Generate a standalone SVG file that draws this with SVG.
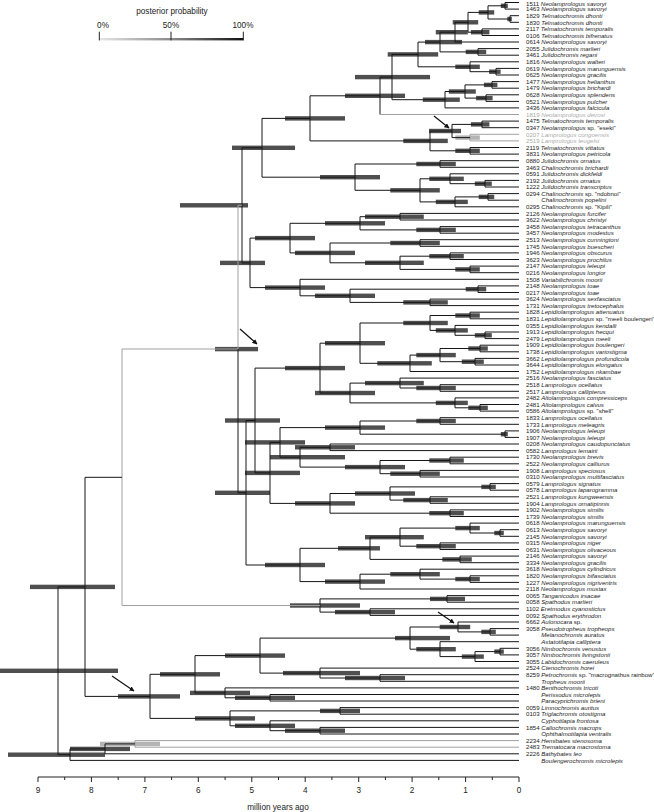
<svg xmlns="http://www.w3.org/2000/svg" width="654" height="812" viewBox="0 0 654 812">
<defs>
<style>
.t{font-family:"Liberation Sans",Arial,sans-serif;font-size:6.1px;fill:#222}
.i{font-style:italic}
.g{fill:#aaa}
.ax{font-family:"Liberation Sans",Arial,sans-serif;font-size:8.2px;fill:#222;text-anchor:middle}
.axl{stroke:#222;stroke-width:1;fill:none}
.br path{stroke:#161616;stroke-width:1;fill:none}
.br path.gy{stroke:#a0a0a0}
.bars rect{fill:#4f4f4f}
.bars rect.gy{fill:#b4b4b4}
.arr{stroke:#111;stroke-width:1.2;fill:none;marker-end:url(#ah)}
</style>
<linearGradient id="pp" x1="0" x2="1" y1="0" y2="0">
<stop offset="0" stop-color="#e6e6e6"/><stop offset="0.5" stop-color="#8a8a8a"/><stop offset="1" stop-color="#111"/>
</linearGradient>
<marker id="ah" viewBox="0 0 10 10" refX="9" refY="5" markerWidth="5" markerHeight="5" orient="auto" markerUnits="userSpaceOnUse"><path d="M0 0L10 5L0 10z" fill="#111"/></marker>
</defs>
<rect width="654" height="812" fill="#fff"/>
<g id="legend">
<text class="ax" x="172" y="13.5">posterior probability</text>
<text class="ax" x="103" y="28">0%</text>
<text class="ax" x="171" y="28">50%</text>
<text class="ax" x="243" y="28">100%</text>
<rect x="99.3" y="38" width="144" height="2.4" fill="url(#pp)"/>
<path class="axl" d="M99.3 31.7V40.4M171 31.7V40.4M243.3 31.7V40.4"/>
</g>
<g id="axis">
<path class="axl" d="M38 777H519M38 777v5M91.4 777v5M144.9 777v5M198.3 777v5M251.8 777v5M305.2 777v5M358.7 777v5M412.1 777v5M465.6 777v5M519 777v5M64.7 777v3M118.2 777v3M171.6 777v3M225.1 777v3M278.5 777v3M331.9 777v3M385.4 777v3M438.8 777v3M492.3 777v3"/>
<text class="ax" x="38" y="793">9</text><text class="ax" x="91.4" y="793">8</text><text class="ax" x="144.9" y="793">7</text><text class="ax" x="198.3" y="793">6</text><text class="ax" x="251.8" y="793">5</text><text class="ax" x="305.2" y="793">4</text><text class="ax" x="358.7" y="793">3</text><text class="ax" x="412.1" y="793">2</text><text class="ax" x="465.6" y="793">1</text><text class="ax" x="519" y="793">0</text>
<text class="ax" x="278" y="810">million years ago</text>
</g>
<g id="hpd" class="bars">
<rect x="500.8" y="3.6" width="7" height="4.4"/><rect x="507.3" y="16.8" width="4.5" height="4.4"/><rect x="478.7" y="10.2" width="15.5" height="4.4"/><rect x="470.9" y="30" width="18.5" height="4.4"/><rect x="452.7" y="20.1" width="25.5" height="4.4"/><rect x="435.8" y="30" width="32" height="4.4"/><rect x="465.7" y="49.7" width="20.5" height="4.4"/><rect x="425" y="39.9" width="37" height="4.4"/><rect x="489.1" y="69.5" width="11.5" height="4.4"/><rect x="455.3" y="64.6" width="24.5" height="4.4"/><rect x="387.7" y="52.2" width="50.5" height="4.4"/><rect x="483.9" y="82.7" width="13.5" height="4.4"/><rect x="476.1" y="95.9" width="16.5" height="4.4"/><rect x="448.8" y="89.3" width="27" height="4.4"/><rect x="422.8" y="97.5" width="37" height="4.4"/><rect x="355" y="74.9" width="75" height="4.4"/><rect x="345" y="93.6" width="60" height="4.4"/><rect x="470.9" y="122.2" width="18.5" height="4.4"/><rect class="gy" x="455.3" y="135.4" width="24.5" height="4.4"/><rect x="429" y="128.8" width="32" height="4.4"/><rect x="455.3" y="148.6" width="24.5" height="4.4"/><rect x="403.3" y="138.7" width="44.5" height="4.4"/><rect x="285" y="116.2" width="60" height="4.4"/>
<rect x="416.3" y="161.8" width="39.5" height="4.4"/><rect x="474.8" y="181.5" width="17" height="4.4"/><rect x="429.3" y="176.6" width="34.5" height="4.4"/><rect x="478.7" y="194.7" width="15.5" height="4.4"/><rect x="435.8" y="199.7" width="32" height="4.4"/><rect x="390.3" y="188.1" width="49.5" height="4.4"/><rect x="320" y="175" width="60" height="4.4"/><rect x="232" y="145.6" width="63" height="4.4"/><rect x="365" y="214.5" width="58.8" height="4.4"/><rect x="416.3" y="227.7" width="39.5" height="4.4"/><rect x="325" y="221.1" width="60" height="4.4"/><rect x="390.3" y="240.8" width="49.5" height="4.4"/><rect x="429.3" y="254" width="34.5" height="4.4"/><rect x="455.3" y="267.2" width="24.5" height="4.4"/><rect x="365" y="260.6" width="58.8" height="4.4"/><rect x="295" y="250.7" width="60" height="4.4"/><rect x="255" y="235.9" width="60" height="4.4"/><rect x="465.7" y="287" width="20.5" height="4.4"/><rect x="403.3" y="300.2" width="44.5" height="4.4"/><rect x="315" y="293.6" width="60" height="4.4"/><rect x="265" y="285.4" width="60" height="4.4"/><rect x="220" y="260.7" width="45" height="4.4"/><rect x="180" y="203.1" width="68" height="4.4"/>
<rect x="455.3" y="313.3" width="24.5" height="4.4"/><rect x="474.8" y="333.1" width="17" height="4.4"/><rect x="435.8" y="328.2" width="32" height="4.4"/><rect x="403.3" y="320.8" width="44.5" height="4.4"/><rect x="468.3" y="346.3" width="19.5" height="4.4"/><rect x="461.8" y="359.5" width="22" height="4.4"/><rect x="416.3" y="352.9" width="39.5" height="4.4"/><rect x="377.3" y="361.1" width="54.5" height="4.4"/><rect x="325" y="341" width="60" height="4.4"/><rect x="416.3" y="385.8" width="39.5" height="4.4"/><rect x="365" y="380.9" width="58.8" height="4.4"/><rect x="468.3" y="405.6" width="19.5" height="4.4"/><rect x="435.8" y="400.7" width="32" height="4.4"/><rect x="315" y="390.8" width="60" height="4.4"/><rect x="285" y="365.9" width="60" height="4.4"/><rect x="416.3" y="418.8" width="39.5" height="4.4"/><rect x="500.8" y="432" width="7" height="4.4"/><rect x="325" y="425.4" width="60" height="4.4"/><rect x="295" y="445.1" width="60" height="4.4"/><rect x="429.3" y="458.3" width="34.5" height="4.4"/><rect x="390.3" y="471.5" width="49.5" height="4.4"/><rect x="345" y="464.9" width="60" height="4.4"/><rect x="270" y="455" width="75" height="4.4"/><rect x="245" y="440.2" width="60" height="4.4"/><rect x="481.3" y="484.7" width="14.5" height="4.4"/><rect x="403.3" y="497.9" width="44.5" height="4.4"/><rect x="355" y="491.3" width="60" height="4.4"/><rect x="429.3" y="511" width="34.5" height="4.4"/><rect x="295" y="501.2" width="60" height="4.4"/><rect x="245" y="470.7" width="55" height="4.4"/>
<rect x="494.3" y="530.8" width="9.5" height="4.4"/><rect x="455.3" y="525.9" width="24.5" height="4.4"/><rect x="416.3" y="544" width="39.5" height="4.4"/><rect x="365" y="535" width="58.8" height="4.4"/><rect x="442.3" y="557.2" width="29.5" height="4.4"/><rect x="338" y="546.1" width="42" height="4.4"/><rect x="455.3" y="576.9" width="24.5" height="4.4"/><rect x="390.3" y="572" width="49.5" height="4.4"/><rect x="325" y="579.4" width="60" height="4.4"/><rect x="265" y="562.8" width="60" height="4.4"/><rect x="225" y="418.3" width="55" height="4.4"/><rect x="215" y="490.6" width="55" height="4.4"/><rect x="215" y="346.9" width="43" height="4.4"/>
<rect x="430" y="596.7" width="35" height="4.4"/><rect x="335" y="609.9" width="60" height="4.4"/><rect x="290" y="603.3" width="70" height="4.4"/>
<rect x="481.3" y="629.7" width="14.5" height="4.4"/><rect x="439.7" y="624.8" width="30.5" height="4.4"/><rect x="494.3" y="649.4" width="9.5" height="4.4"/><rect x="461.8" y="654.4" width="22" height="4.4"/><rect x="416.3" y="647" width="39.5" height="4.4"/><rect x="395" y="635.9" width="55" height="4.4"/><rect x="345" y="675.8" width="60" height="4.4"/><rect x="283" y="670.9" width="77" height="4.4"/><rect x="225" y="653.4" width="60" height="4.4"/><rect x="235" y="695.6" width="60" height="4.4"/><rect x="190" y="690.7" width="60" height="4.4"/><rect x="160" y="672.1" width="60" height="4.4"/><rect x="320" y="708.7" width="40" height="4.4"/><rect x="285" y="728.5" width="60" height="4.4"/><rect x="235" y="723.6" width="60" height="4.4"/><rect x="195" y="716.2" width="60" height="4.4"/><rect x="118" y="694.2" width="62" height="4.4"/><rect x="30" y="584.7" width="85" height="4.4"/><rect class="gy" x="100" y="741.7" width="60" height="4.4"/><rect x="70" y="746.7" width="60" height="4.4"/><rect x="8" y="752.5" width="97" height="4.4"/><rect x="0" y="668.6" width="118" height="4.4"/>
</g>
<g id="branches" class="br">
<path d="M519 2.5H505V9.1H519"/><path d="M519 15.7H510V22.3H519"/><path d="M505 5.8H488V19H510"/><path d="M519 28.9H482V35.5H519"/><path d="M488 12.4H468V32.2H482"/><path d="M468 22.3H455V42H519"/><path d="M519 48.6H478V55.2H519"/><path d="M455 32.2H440V51.9H478"/><path d="M519 68.4H496V75H519"/><path d="M519 61.8H470V71.7H496"/><path d="M440 42.1H418V66.8H470"/><path d="M519 81.6H492V88.2H519"/><path d="M519 94.8H486V101.4H519"/><path d="M492 84.9H465V98.1H486"/><path d="M465 91.5H445V107.9H519"/><path d="M418 54.4H392V99.7H445"/><path d="M392 77.1H380V114.5"/><path class="gy" d="M380 114.5H519"/><path d="M519 121.1H482V127.7H519"/><path class="gy" d="M519 134.3H470V140.9H519"/><path d="M482 124.4H452V137.6H470"/><path d="M519 147.5H470V154.1H519"/><path d="M452 131H430V150.8H470"/><path d="M380 95.8H310V140.9H430"/>
<path d="M519 160.7H440V167.3H519"/><path d="M519 180.4H485V187H519"/><path d="M519 173.8H450V183.7H485"/><path d="M519 193.6H488V200.2H519"/><path d="M488 196.9H455V206.8H519"/><path d="M450 178.8H420V201.9H455"/><path d="M440 164H355V190.3H420"/><path d="M310 118.4H262V177.2H355"/><path d="M519 213.4H400V220H519"/><path d="M519 226.6H440V233.2H519"/><path d="M400 216.7H360V229.9H440"/><path d="M519 239.7H420V246.3H519"/><path d="M519 252.9H450V259.5H519"/><path d="M519 266.1H470V272.7H519"/><path d="M450 256.2H400V269.4H470"/><path d="M420 243H330V262.8H400"/><path d="M360 223.3H290V252.9H330"/><path d="M519 285.9H478V292.5H519"/><path d="M519 299.1H430V305.6H519"/><path d="M478 289.2H350V302.4H430"/><path d="M519 279.3H300V295.8H350"/><path d="M290 238.1H250V287.6H300"/><path d="M262 147.8H242V262.9H250"/>
<path d="M519 312.2H470V318.8H519"/><path d="M519 332H485V338.6H519"/><path d="M519 325.4H455V335.3H485"/><path d="M470 315.5H430V330.4H455"/><path d="M519 345.2H480V351.8H519"/><path d="M519 358.4H475V365H519"/><path d="M480 348.5H440V361.7H475"/><path d="M440 355.1H410V371.5H519"/><path d="M430 323H360V363.3H410"/><path d="M519 384.7H440V391.3H519"/><path d="M519 378.1H400V388H440"/><path d="M519 404.5H480V411.1H519"/><path d="M519 397.9H455V407.8H480"/><path d="M400 383.1H350V402.9H455"/><path d="M360 343.2H320V393H350"/><path d="M519 417.7H440V424.3H519"/><path d="M519 430.9H505V437.4H519"/><path d="M440 421H360V434.2H505"/><path d="M519 444H330V450.6H519"/><path d="M519 457.2H450V463.8H519"/><path d="M519 470.4H420V477H519"/><path d="M450 460.5H380V473.7H420"/><path d="M330 447.3H300V467.1H380"/><path d="M360 427.6H280V457.2H300"/><path d="M519 483.6H490V490.2H519"/><path d="M519 496.8H430V503.3H519"/><path d="M490 486.9H390V500.1H430"/><path d="M519 509.9H450V516.5H519"/><path d="M390 493.5H330V513.2H450"/><path d="M280 442.4H270V503.4H330"/>
<path d="M519 529.7H500V536.3H519"/><path d="M519 523.1H470V533H500"/><path d="M519 542.9H440V549.5H519"/><path d="M470 528.1H400V546.2H440"/><path d="M519 556.1H460V562.7H519"/><path d="M400 537.2H370V559.4H460"/><path d="M519 575.8H470V582.4H519"/><path d="M519 569.2H420V579.1H470"/><path d="M420 574.2H360V589H519"/><path d="M370 548.3H300V581.6H360"/><path d="M320 368.1H255V472.9H270"/><path d="M255 420.5H246V565H300"/><path class="gy" d="M242 205.3H238V349"/><path d="M238 349V492.8H246"/>
<path d="M519 595.6H447V602.2H519"/><path d="M519 608.8H370V615.4H519"/><path d="M447 598.9H320V612.1H370"/><path class="gy" d="M238 349H122V605.5H320"/>
<path d="M519 628.6H490V635.1H519"/><path d="M519 622H458V631.9H490"/><path d="M519 648.3H500V654.9H519"/><path d="M500 651.6H475V661.5H519"/><path d="M519 641.7H440V656.6H475"/><path d="M458 627H410V649.2H440"/><path d="M519 674.7H380V681.3H519"/><path d="M519 668.1H320V678H380"/><path d="M410 638.1H260V673.1H320"/><path d="M519 694.5H270V701H519"/><path d="M519 687.9H225V697.8H270"/><path d="M260 655.6H195V692.9H225"/><path d="M519 707.6H340V714.2H519"/><path d="M519 727.4H320V734H519"/><path d="M519 720.8H270V730.7H320"/><path d="M340 710.9H230V725.8H270"/><path d="M195 674.3H150V718.4H230"/><path d="M122 477.3H85V696.4H150"/><path class="gy" d="M519 740.6H135V747.2H519"/><path d="M135 743.9H105V753.8H519"/><path d="M105 748.9H70V760.4H519"/><path d="M85 586.9H58V754.7H70"/>
</g>
<g id="arrows">
<path class="arr" d="M434 116L449 128"/>
<path class="arr" d="M240 329L257 344"/>
<path class="arr" d="M438 612L454 623"/>
<path class="arr" d="M112 676L134 691"/>
</g>
<g id="labels">
<text id="tip1" class="t" x="526" y="5.6">1511 <tspan class="i">Neolamprologus savoryi</tspan></text>
<text id="tip2" class="t" x="526" y="11.3">1463 <tspan class="i">Neolamprologus savoryi</tspan></text>
<text id="tip3" class="t" x="526" y="17.9">1829 <tspan class="i">Telmatochromis dhonti</tspan></text>
<text id="tip4" class="t" x="526" y="24.5">1830 <tspan class="i">Telmatochromis dhonti</tspan></text>
<text id="tip5" class="t" x="526" y="31.1">2117 <tspan class="i">Telmatochromis temporalis</tspan></text>
<text id="tip6" class="t" x="526" y="37.7">0106 <tspan class="i">Telmatochromis bifrenatus</tspan></text>
<text id="tip7" class="t" x="526" y="44.2">0614 <tspan class="i">Neolamprologus savoryi</tspan></text>
<text id="tip8" class="t" x="526" y="50.8">2055 <tspan class="i">Julidochromis marlieri</tspan></text>
<text id="tip9" class="t" x="526" y="57.4">3461 <tspan class="i">Julidochromis regani</tspan></text>
<text id="tip10" class="t" x="526" y="64">1816 <tspan class="i">Neolamprologus walteri</tspan></text>
<text id="tip11" class="t" x="526" y="70.6">0619 <tspan class="i">Neolamprologus marunguensis</tspan></text>
<text id="tip12" class="t" x="526" y="77.2">0625 <tspan class="i">Neolamprologus gracilis</tspan></text>
<text id="tip13" class="t" x="526" y="83.8">1477 <tspan class="i">Neolamprologus helianthus</tspan></text>
<text id="tip14" class="t" x="526" y="90.4">1479 <tspan class="i">Neolamprologus brichardi</tspan></text>
<text id="tip15" class="t" x="526" y="97">0628 <tspan class="i">Neolamprologus splendens</tspan></text>
<text id="tip16" class="t" x="526" y="103.6">0521 <tspan class="i">Neolamprologus pulcher</tspan></text>
<text id="tip17" class="t" x="526" y="110.1">3436 <tspan class="i">Neolamprologus falcicula</tspan></text>
<text id="tip18" class="t g" x="526" y="116.7">1819 <tspan class="i">Neolamprologus devosi</tspan></text>
<text id="tip19" class="t" x="526" y="123.3">1475 <tspan class="i">Telmatochromis temporalis</tspan></text>
<text id="tip20" class="t" x="526" y="129.9">0347 <tspan class="i">Neolamprologus</tspan> sp. "eseki"</text>
<text id="tip21" class="t g" x="526" y="136.5">0207 <tspan class="i">Lamprologus congoensis</tspan></text>
<text id="tip22" class="t g" x="526" y="143.1">2519 <tspan class="i">Lamprologus teugelsi</tspan></text>
<text id="tip23" class="t" x="526" y="149.7">2119 <tspan class="i">Telmatochromis vittatus</tspan></text>
<text id="tip24" class="t" x="526" y="156.3">3831 <tspan class="i">Neolamprologus petricola</tspan></text>
<text id="tip25" class="t" x="526" y="162.9">0880 <tspan class="i">Julidochromis ornatus</tspan></text>
<text id="tip26" class="t" x="526" y="169.5">3463 <tspan class="i">Chalinochromis brichardi</tspan></text>
<text id="tip27" class="t" x="526" y="176">0591 <tspan class="i">Julidochromis dickfeldi</tspan></text>
<text id="tip28" class="t" x="526" y="182.6">2192 <tspan class="i">Julidochromis ornatus</tspan></text>
<text id="tip29" class="t" x="526" y="189.2">1222 <tspan class="i">Julidochromis transcriptus</tspan></text>
<text id="tip30" class="t" x="526" y="195.8">0294 <tspan class="i">Chalinochromis</tspan> sp. "ndobnoi"</text>
<text id="tip31" class="t i" x="541.3" y="202.4">Chalinochromis popelini</text>
<text id="tip32" class="t" x="526" y="209">0295 <tspan class="i">Chalinochromis</tspan> sp. "Kipili"</text>
<text id="tip33" class="t" x="526" y="215.6">2126 <tspan class="i">Neolamprologus furcifer</tspan></text>
<text id="tip34" class="t" x="526" y="222.2">3622 <tspan class="i">Neolamprologus christyi</tspan></text>
<text id="tip35" class="t" x="526" y="228.8">3458 <tspan class="i">Neolamprologus tetracanthus</tspan></text>
<text id="tip36" class="t" x="526" y="235.4">3457 <tspan class="i">Neolamprologus modestus</tspan></text>
<text id="tip37" class="t" x="526" y="241.9">2513 <tspan class="i">Neolamprologus cunningtoni</tspan></text>
<text id="tip38" class="t" x="526" y="248.5">1745 <tspan class="i">Neolamprologus buescheri</tspan></text>
<text id="tip39" class="t" x="526" y="255.1">1946 <tspan class="i">Neolamprologus obscurus</tspan></text>
<text id="tip40" class="t" x="526" y="261.7">3623 <tspan class="i">Neolamprologus prochilus</tspan></text>
<text id="tip41" class="t" x="526" y="268.3">2147 <tspan class="i">Neolamprologus leleupi</tspan></text>
<text id="tip42" class="t" x="526" y="274.9">0216 <tspan class="i">Neolamprologus longior</tspan></text>
<text id="tip43" class="t" x="526" y="281.5">1508 <tspan class="i">Variabilichromis moorii</tspan></text>
<text id="tip44" class="t" x="526" y="288.1">2148 <tspan class="i">Neolamprologus toae</tspan></text>
<text id="tip45" class="t" x="526" y="294.7">0217 <tspan class="i">Neolamprologus toae</tspan></text>
<text id="tip46" class="t" x="526" y="301.3">3624 <tspan class="i">Neolamprologus sexfasciatus</tspan></text>
<text id="tip47" class="t" x="526" y="307.8">1731 <tspan class="i">Neolamprologus tretocephalus</tspan></text>
<text id="tip48" class="t" x="526" y="314.4">1828 <tspan class="i">Lepidiolamprologus attenuatus</tspan></text>
<text id="tip49" class="t" x="526" y="321">1831 <tspan class="i">Lepidiolamprologus</tspan> sp. "meeli boulengeri"</text>
<text id="tip50" class="t" x="526" y="327.6">0355 <tspan class="i">Lepidiolamprologus kendalli</tspan></text>
<text id="tip51" class="t" x="526" y="334.2">1913 <tspan class="i">Lepidiolamprologus hecqui</tspan></text>
<text id="tip52" class="t" x="526" y="340.8">2479 <tspan class="i">Lepidiolamprologus meeli</tspan></text>
<text id="tip53" class="t" x="526" y="347.4">1909 <tspan class="i">Lepidiolamprologus boulengeri</tspan></text>
<text id="tip54" class="t" x="526" y="354">1738 <tspan class="i">Lepidiolamprologus variostigma</tspan></text>
<text id="tip55" class="t" x="526" y="360.6">3662 <tspan class="i">Lepidiolamprologus profundicola</tspan></text>
<text id="tip56" class="t" x="526" y="367.2">3644 <tspan class="i">Lepidiolamprologus elongatus</tspan></text>
<text id="tip57" class="t" x="526" y="373.7">1752 <tspan class="i">Lepidiolamprologus nkambae</tspan></text>
<text id="tip58" class="t" x="526" y="380.3">2516 <tspan class="i">Neolamprologus fasciatus</tspan></text>
<text id="tip59" class="t" x="526" y="386.9">2518 <tspan class="i">Lamprologus ocellatus</tspan></text>
<text id="tip60" class="t" x="526" y="393.5">2517 <tspan class="i">Lamprologus callipterus</tspan></text>
<text id="tip61" class="t" x="526" y="400.1">2482 <tspan class="i">Altolamprologus compressiceps</tspan></text>
<text id="tip62" class="t" x="526" y="406.7">2481 <tspan class="i">Altolamprologus calvus</tspan></text>
<text id="tip63" class="t" x="526" y="413.3">0586 <tspan class="i">Altolamprologus</tspan> sp. "shell"</text>
<text id="tip64" class="t" x="526" y="419.9">1833 <tspan class="i">Lamprologus ocellatus</tspan></text>
<text id="tip65" class="t" x="526" y="426.5">1733 <tspan class="i">Lamprologus meleagris</tspan></text>
<text id="tip66" class="t" x="526" y="433.1">1906 <tspan class="i">Neolamprologus leleupi</tspan></text>
<text id="tip67" class="t" x="526" y="439.6">1907 <tspan class="i">Neolamprologus leleupi</tspan></text>
<text id="tip68" class="t" x="526" y="446.2">0208 <tspan class="i">Neolamprologus caudopunctatus</tspan></text>
<text id="tip69" class="t" x="526" y="452.8">0582 <tspan class="i">Lamprologus lemairii</tspan></text>
<text id="tip70" class="t" x="526" y="459.4">1730 <tspan class="i">Neolamprologus brevis</tspan></text>
<text id="tip71" class="t" x="526" y="466">2522 <tspan class="i">Neolamprologus calliurus</tspan></text>
<text id="tip72" class="t" x="526" y="472.6">1908 <tspan class="i">Lamprologus speciosus</tspan></text>
<text id="tip73" class="t" x="526" y="479.2">0310 <tspan class="i">Neolamprologus multifasciatus</tspan></text>
<text id="tip74" class="t" x="526" y="485.8">0579 <tspan class="i">Lamprologus signatus</tspan></text>
<text id="tip75" class="t" x="526" y="492.4">0578 <tspan class="i">Lamprologus laparogramma</tspan></text>
<text id="tip76" class="t" x="526" y="499">2521 <tspan class="i">Lamprologus kungweensis</tspan></text>
<text id="tip77" class="t" x="526" y="505.5">1904 <tspan class="i">Lamprologus ornatipinnis</tspan></text>
<text id="tip78" class="t" x="526" y="512.1">1902 <tspan class="i">Neolamprologus similis</tspan></text>
<text id="tip79" class="t" x="526" y="518.7">1739 <tspan class="i">Neolamprologus similis</tspan></text>
<text id="tip80" class="t" x="526" y="525.3">0618 <tspan class="i">Neolamprologus marunguensis</tspan></text>
<text id="tip81" class="t" x="526" y="531.9">0613 <tspan class="i">Neolamprologus savoryi</tspan></text>
<text id="tip82" class="t" x="526" y="538.5">2145 <tspan class="i">Neolamprologus savoryi</tspan></text>
<text id="tip83" class="t" x="526" y="545.1">0315 <tspan class="i">Neolamprologus niger</tspan></text>
<text id="tip84" class="t" x="526" y="551.7">0631 <tspan class="i">Neolamprologus olivaceous</tspan></text>
<text id="tip85" class="t" x="526" y="558.3">2146 <tspan class="i">Neolamprologus savoryi</tspan></text>
<text id="tip86" class="t" x="526" y="564.9">3334 <tspan class="i">Neolamprologus gracilis</tspan></text>
<text id="tip87" class="t" x="526" y="571.4">3618 <tspan class="i">Neolamprologus cylindricus</tspan></text>
<text id="tip88" class="t" x="526" y="578">1820 <tspan class="i">Neolamprologus bifasciatus</tspan></text>
<text id="tip89" class="t" x="526" y="584.6">1227 <tspan class="i">Neolamprologus nigriventris</tspan></text>
<text id="tip90" class="t" x="526" y="591.2">2118 <tspan class="i">Neolamprologus mustax</tspan></text>
<text id="tip91" class="t" x="526" y="597.8">0065 <tspan class="i">Tanganicodus irsacae</tspan></text>
<text id="tip92" class="t" x="526" y="604.4">0058 <tspan class="i">Spathodus marlieri</tspan></text>
<text id="tip93" class="t" x="526" y="611">1102 <tspan class="i">Eretmodus cyanostictus</tspan></text>
<text id="tip94" class="t" x="526" y="617.6">0092 <tspan class="i">Spathodus erythrodon</tspan></text>
<text id="tip95" class="t" x="526" y="624.2">6662 <tspan class="i">Aulonocara</tspan> sp.</text>
<text id="tip96" class="t" x="526" y="630.8">3058 <tspan class="i">Pseudotropheus tropheops</tspan></text>
<text id="tip97" class="t i" x="541.3" y="637.3">Melanochromis auratus</text>
<text id="tip98" class="t i" x="541.3" y="643.9">Astatotilapia calliptera</text>
<text id="tip99" class="t" x="526" y="650.5">3056 <tspan class="i">Nimbochromis venustus</tspan></text>
<text id="tip100" class="t" x="526" y="657.1">3057 <tspan class="i">Nimbochromis livingstonii</tspan></text>
<text id="tip101" class="t" x="526" y="663.7">3055 <tspan class="i">Labidochromis caeruleus</tspan></text>
<text id="tip102" class="t" x="526" y="670.3">2524 <tspan class="i">Ctenochromis horei</tspan></text>
<text id="tip103" class="t" x="526" y="676.9">8259 <tspan class="i">Petrochromis</tspan> sp. "macrognathus rainbow"</text>
<text id="tip104" class="t i" x="541.3" y="683.5">Tropheus moorii</text>
<text id="tip105" class="t" x="526" y="690.1">1480 <tspan class="i">Benthochromis tricoti</tspan></text>
<text id="tip106" class="t i" x="541.3" y="696.7">Perissodus microlepis</text>
<text id="tip107" class="t i" x="541.3" y="703.2">Paracyprichromis brieni</text>
<text id="tip108" class="t" x="526" y="709.8">0059 <tspan class="i">Limnochromis auritus</tspan></text>
<text id="tip109" class="t" x="526" y="716.4">0103 <tspan class="i">Triglachromis otostigma</tspan></text>
<text id="tip110" class="t i" x="541.3" y="723">Cyphotilapia frontosa</text>
<text id="tip111" class="t" x="526" y="729.6">1854 <tspan class="i">Callochromis macrops</tspan></text>
<text id="tip112" class="t i" x="541.3" y="736.2">Ophthalmotilapia ventralis</text>
<text id="tip113" class="t" x="526" y="742.8">2234 <tspan class="i">Hemibates stenosoma</tspan></text>
<text id="tip114" class="t" x="526" y="749.4">2483 <tspan class="i">Trematocara macrostoma</tspan></text>
<text id="tip115" class="t" x="526" y="756">2226 <tspan class="i">Bathybates leo</tspan></text>
<text id="tip116" class="t i" x="541.3" y="762.6">Boulengerochromis microlepis</text>
</g>
</svg>
